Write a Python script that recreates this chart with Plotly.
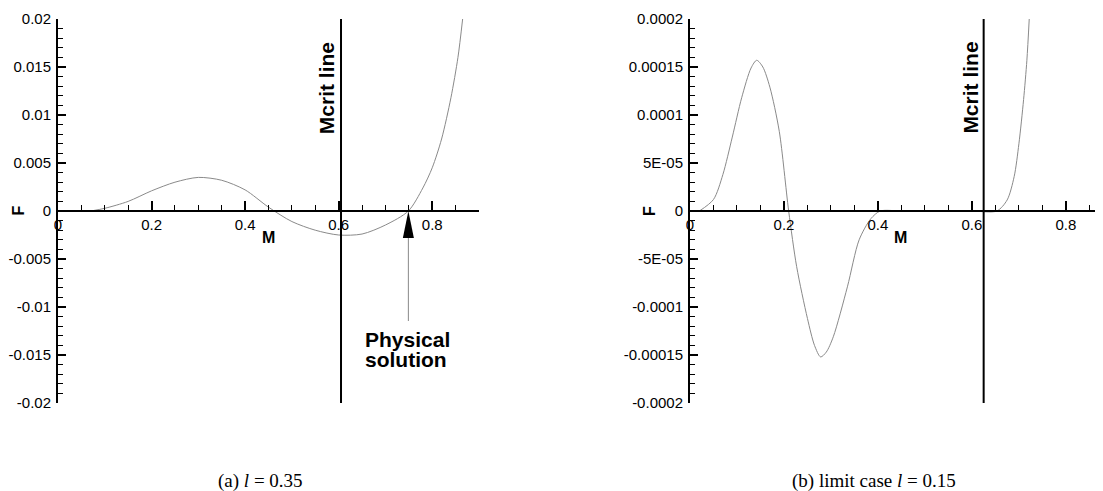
import numpy as np
import plotly.graph_objects as go

# ---------------- data ----------------
# (a) l = 0.35
m_a = [0.07, 0.10, 0.15, 0.20, 0.25, 0.30, 0.35, 0.40, 0.45, 0.50, 0.55, 0.60,
       0.65, 0.70, 0.749, 0.78, 0.80, 0.82, 0.84, 0.855, 0.865]
f_a = [0.0, 0.00028, 0.0010, 0.0021, 0.0030, 0.0035, 0.0032, 0.0022, 0.0004,
       -0.0011, -0.0020, -0.0025, -0.0024, -0.00146, 0.0, 0.0024, 0.0045,
       0.0075, 0.0118, 0.0160, 0.0200]
mcrit_a = 0.605
phys_root_a = 0.749

# (b) limit case l = 0.15
m_b = [0.02, 0.05, 0.07, 0.09, 0.11, 0.13, 0.142, 0.155, 0.17, 0.19, 0.21,
       0.227, 0.25, 0.265, 0.278, 0.29, 0.305, 0.335, 0.36, 0.385, 0.405,
       0.45, 0.50, 0.55, 0.60, 0.653, 0.675, 0.69, 0.70, 0.71, 0.717, 0.722]
f_b = [0.0, 1.2e-5, 3.8e-5, 7.7e-5, 1.18e-4, 1.49e-4, 1.57e-4, 1.50e-4,
       1.29e-4, 8.3e-5, 0.0, -5.8e-5, -1.12e-4, -1.40e-4, -1.52e-4, -1.47e-4,
       -1.31e-4, -7.9e-5, -3.0e-5, -8e-6, 0.0, 0.0, 0.0, 0.0, 0.0, 0.0,
       1.15e-5, 3.6e-5, 7.0e-5, 1.16e-4, 1.57e-4, 2.0e-4]
mcrit_b = 0.625

x_tickvals = [0, 0.2, 0.4, 0.6, 0.8]
x_ticktext = ["0", "0.2", "0.4", "0.6", "0.8"]
ya_tickvals = [0.02, 0.015, 0.01, 0.005, 0, -0.005, -0.01, -0.015, -0.02]
ya_ticktext = ["0.02", "0.015", "0.01", "0.005", "0", "-0.005", "-0.01", "-0.015", "-0.02"]
yb_tickvals = [0.0002, 0.00015, 0.0001, 0.00005, 0, -0.00005, -0.0001, -0.00015, -0.0002]
yb_ticktext = ["0.0002", "0.00015", "0.0001", "5E-05", "0", "-5E-05", "-0.0001", "-0.00015", "-0.0002"]

caption_a = "(a) <i>l</i> = 0.35"
caption_b = "(b) limit case <i>l</i> = 0.15"

# ---------------- layout geometry ----------------
# the page body has an 8px margin: figure is drawn at (8, 8) in the window
OX, OY = 8, 8
W, H = 1103 - OX, 491 - OY
SANS = "Liberation Sans, Arial, sans-serif"
SERIF = "Liberation Serif, Times New Roman, serif"
CURVE = "#8a8a8a"

def px(v):
    return (v - OX) / W

def py(v):
    return 1 - (v - OY) / H

fig = go.Figure()

fig.add_trace(go.Scatter(x=m_a, y=f_a, mode="lines", xaxis="x", yaxis="y",
                         line=dict(color=CURVE, width=1, shape="spline", smoothing=0.8),
                         showlegend=False, hoverinfo="skip"))
fig.add_trace(go.Scatter(x=[mcrit_a, mcrit_a], y=[-0.02, 0.02], mode="lines",
                         xaxis="x", yaxis="y", line=dict(color="black", width=2),
                         showlegend=False, hoverinfo="skip"))
fig.add_trace(go.Scatter(x=m_b, y=f_b, mode="lines", xaxis="x2", yaxis="y2",
                         line=dict(color=CURVE, width=1, shape="spline", smoothing=0.8),
                         showlegend=False, hoverinfo="skip"))
fig.add_trace(go.Scatter(x=[mcrit_b, mcrit_b], y=[-0.0002, 0.0002], mode="lines",
                         xaxis="x2", yaxis="y2", line=dict(color="black", width=2),
                         showlegend=False, hoverinfo="skip"))

y_dom = [py(403), py(19)]
x_pos = py(211)

def xaxis_cfg(domain, rng):
    return dict(domain=domain, range=rng, anchor="free", position=x_pos,
                showline=True, linewidth=2, linecolor="black",
                showgrid=False, zeroline=False, automargin=False,
                tickmode="array", tickvals=x_tickvals, ticktext=x_ticktext,
                ticks="inside", ticklen=9, tickwidth=2, tickcolor="black",
                tickfont=dict(family=SANS, size=15, color="black"),
                minor=dict(ticks="inside", ticklen=5, tickwidth=1, tickcolor="black",
                           tickmode="array",
                           tickvals=[round(v, 3) for v in np.arange(0, rng[1], 0.05)]))

def yaxis_cfg(anchor, rng, vals, text, minor_step):
    return dict(domain=y_dom, range=rng, anchor=anchor,
                showline=True, linewidth=2, linecolor="black",
                showgrid=False, zeroline=False, automargin=False,
                tickmode="array", tickvals=vals, ticktext=text,
                ticks="inside", ticklen=8, tickwidth=2, tickcolor="black",
                ticklabelstandoff=2,
                tickfont=dict(family=SANS, size=15, color="black"),
                minor=dict(ticks="inside", ticklen=5, tickwidth=1, tickcolor="black",
                           tickmode="array",
                           tickvals=[float(v) for v in np.arange(rng[0], rng[1] * 1.0001, minor_step)]))

fig.update_layout(
    width=W, height=H,
    margin=dict(l=0, r=0, t=0, b=0),
    paper_bgcolor="white", plot_bgcolor="white",
    xaxis=xaxis_cfg([px(58), px(479)], [0, 0.9]),
    yaxis=yaxis_cfg("x", [-0.02, 0.02], ya_tickvals, ya_ticktext, 0.001),
    xaxis2=xaxis_cfg([px(690), 1.0], [0, 0.879]),
    yaxis2=yaxis_cfg("x2", [-0.0002, 0.0002], yb_tickvals, yb_ticktext, 0.00001),
)

bold = dict(family=SANS, size=21, color="black")
ann = [
    dict(text="<b>Mcrit line</b>", x=0.573, y=0.0128, xref="x", yref="y",
         textangle=-90, showarrow=False, font=bold, xanchor="center", yanchor="middle"),
    dict(text="<b>Mcrit line</b>", x=0.597, y=0.000128, xref="x2", yref="y2",
         textangle=-90, showarrow=False, font=bold, xanchor="center", yanchor="middle"),
    dict(text="<b>F</b>", x=px(17.5), y=0, xref="paper", yref="y", textangle=-90,
         xanchor="center", yanchor="middle",
         showarrow=False, font=dict(family=SANS, size=16, color="black")),
    dict(text="<b>F</b>", x=px(649), y=0, xref="paper", yref="y2", textangle=-90,
         xanchor="center", yanchor="middle",
         showarrow=False, font=dict(family=SANS, size=16, color="black")),
    dict(text="<b>M</b>", x=0.45, y=-0.00276, xref="x", yref="y", showarrow=False,
         font=dict(family=SANS, size=16, color="black")),
    dict(text="<b>M</b>", x=0.448, y=-0.0000276, xref="x2", yref="y2", showarrow=False,
         font=dict(family=SANS, size=16, color="black")),
    dict(text="<b>Physical</b>", x=0.655, y=-0.01339, xref="x", yref="y",
         xanchor="left", yanchor="middle", showarrow=False, font=bold, borderpad=0),
    dict(text="<b>solution</b>", x=0.655, y=-0.01547, xref="x", yref="y",
         xanchor="left", yanchor="middle", showarrow=False, font=bold, borderpad=0),
    dict(text=caption_a, x=px(216), y=py(481), xref="paper", yref="paper",
         xanchor="left", yanchor="middle", showarrow=False,
         font=dict(family=SERIF, size=19, color="black")),
    dict(text=caption_b, x=px(790), y=py(481), xref="paper", yref="paper",
         xanchor="left", yanchor="middle", showarrow=False,
         font=dict(family=SERIF, size=19, color="black")),
]
fig.update_layout(annotations=ann)

fig.update_layout(shapes=[
    dict(type="path", xref="x", yref="y", xsizemode="pixel", ysizemode="pixel",
         xanchor=phys_root_a, yanchor=0,
         path="M0,0 L-5.5,-27 L5.5,-27 Z", fillcolor="black", line=dict(width=0)),
    dict(type="line", xref="x", yref="y", ysizemode="pixel", yanchor=0,
         x0=phys_root_a, x1=phys_root_a, y0=-27, y1=-110,
         line=dict(color="#888888", width=1)),
])

fig.write_html("out.html")
